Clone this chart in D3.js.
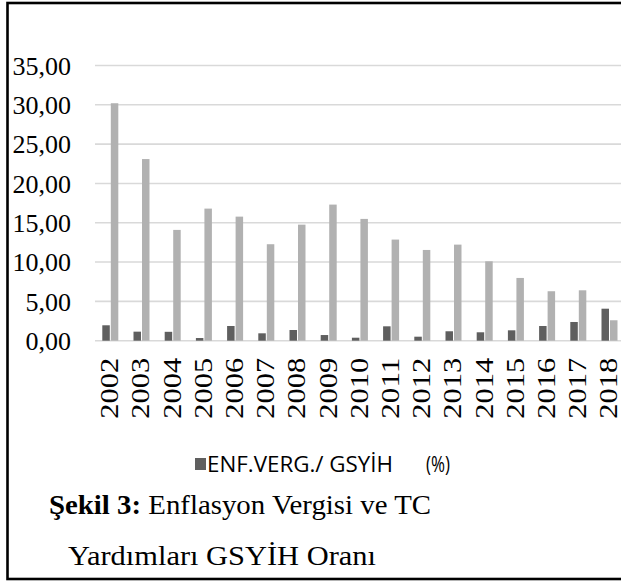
<!DOCTYPE html>
<html>
<head>
<meta charset="utf-8">
<script src="https://cdn.jsdelivr.net/npm/d3@7"></script>
<style>
  html, body { margin: 0; padding: 0; background: #fff; }
  svg { display: block; }
</style>
</head>
<body>
<svg id="chart" width="621" height="581"></svg>
<script>
const years = ["2002","2003","2004","2005","2006","2007","2008","2009","2010","2011","2012","2013","2014","2015","2016","2017","2018"];
const enfVerg = [1.96,1.15,1.13,0.34,1.87,0.94,1.36,0.72,0.38,1.83,0.51,1.20,1.07,1.32,1.87,2.38,4.07];
const tcYard = [30.2,23.1,14.09,16.8,15.78,12.27,14.76,17.31,15.49,12.86,11.54,12.22,10.1,7.98,6.29,6.41,2.6];
const yTicks = [0,5,10,15,20,25,30,35];
const tickLabels = ["0,00","5,00","10,00","15,00","20,00","25,00","30,00","35,00"];
const legendLabel = "ENF.VERG./ GSYİH";
const legendUnit = "(%)";
const captionBold = "Şekil 3:";
const captionRest = " Enflasyon Vergisi ve TC";
const captionLine2 = "Yardımları GSYİH Oranı";

const seriesKeys = ["enf","tc"];
const seriesColors = {enf: "#5f5f5f", tc: "#b1b1b1"};
const table = years.map((y, i) => ({year: y, enf: enfVerg[i], tc: tcYard[i]}));

const serif = "'Liberation Serif', 'Times New Roman', serif";
const sans = "'Open Sans', 'Liberation Sans', sans-serif";

const svg = d3.select("#chart");

// Outer frame
svg.append("rect")
  .attr("x", 7.5).attr("y", 3)
  .attr("width", 640).attr("height", 576)
  .attr("fill", "none").attr("stroke", "#000").attr("stroke-width", 2.6);

const x = d3.scaleBand().domain(years).range([95, 625.4]).padding(0);
const x1 = d3.scaleBand().domain(seriesKeys).range([0, 16]).paddingInner(0.12).paddingOuter(0);
const y = d3.scaleLinear().domain([0, 35]).range([340.7, 65.5]);

// Gridlines
svg.append("g")
  .selectAll("line")
  .data(yTicks)
  .join("line")
  .attr("x1", 95).attr("x2", 621)
  .attr("y1", d => y(d)).attr("y2", d => y(d))
  .attr("stroke", "#d9d9d9").attr("stroke-width", 1.6);

// Y axis labels
const yAxis = d3.axisLeft(y).tickValues(yTicks)
  .tickFormat((d, i) => tickLabels[i]).tickSize(0).tickPadding(0);
const yg = svg.append("g").attr("transform", "translate(71,0)").call(yAxis);
yg.attr("font-family", null).attr("font-size", null);
yg.select(".domain").remove();
yg.selectAll("text")
  .style("font-family", serif)
  .style("font-size", "26px").attr("fill", "#000").attr("dy", "0.34em");

// Bars
const groups = svg.append("g")
  .selectAll("g")
  .data(table)
  .join("g")
  .attr("transform", d => `translate(${x(d.year) + x.bandwidth()/2 - 8.3},0)`);
groups.selectAll("rect")
  .data(d => seriesKeys.map(k => ({key: k, value: d[k]})))
  .join("rect")
  .attr("x", d => x1(d.key))
  .attr("width", x1.bandwidth())
  .attr("y", d => y(d.value))
  .attr("height", d => y(0) - y(d.value))
  .attr("fill", d => seriesColors[d.key]);

// X axis labels (rotated)
const xAxis = d3.axisBottom(x).tickSize(0).tickPadding(0);
const xg = svg.append("g").attr("transform", "translate(0,340.7)").call(xAxis);
xg.attr("font-family", null).attr("font-size", null);
xg.select(".domain").remove();
xg.selectAll("text")
  .style("font-family", serif)
  .style("font-size", "25px").attr("fill", "#000")
  .attr("text-anchor", "end")
  .attr("textLength", 61).attr("lengthAdjust", "spacingAndGlyphs")
  .attr("transform", "translate(-1,17) rotate(-90)")
  .attr("x", 0).attr("y", 0).attr("dy", "0.34em");

// Legend
const leg = svg.append("g");
leg.append("rect").attr("x", 195).attr("y", 458).attr("width", 11).attr("height", 12)
  .attr("fill", seriesColors.enf);
leg.append("text").attr("x", 207).attr("y", 472)
  .style("font-family", sans).style("font-size", "22px")
  .attr("textLength", 186).attr("lengthAdjust", "spacingAndGlyphs")
  .attr("fill", "#000").text(legendLabel);
leg.append("text").attr("x", 426).attr("y", 472)
  .style("font-family", sans).style("font-size", "22px")
  .attr("textLength", 24).attr("lengthAdjust", "spacingAndGlyphs")
  .attr("fill", "#000").text(legendUnit);

// Caption
const cap = svg.append("text").attr("x", 49).attr("y", 514)
  .style("font-family", serif).style("font-size", "27px")
  .attr("textLength", 382).attr("lengthAdjust", "spacingAndGlyphs").attr("fill", "#000");
cap.append("tspan").attr("font-weight", "bold").text(captionBold);
cap.append("tspan").text(captionRest);
svg.append("text").attr("x", 68).attr("y", 565)
  .style("font-family", serif).style("font-size", "27px")
  .attr("textLength", 308).attr("lengthAdjust", "spacingAndGlyphs").attr("fill", "#000")
  .text(captionLine2);
</script>
</body>
</html>
